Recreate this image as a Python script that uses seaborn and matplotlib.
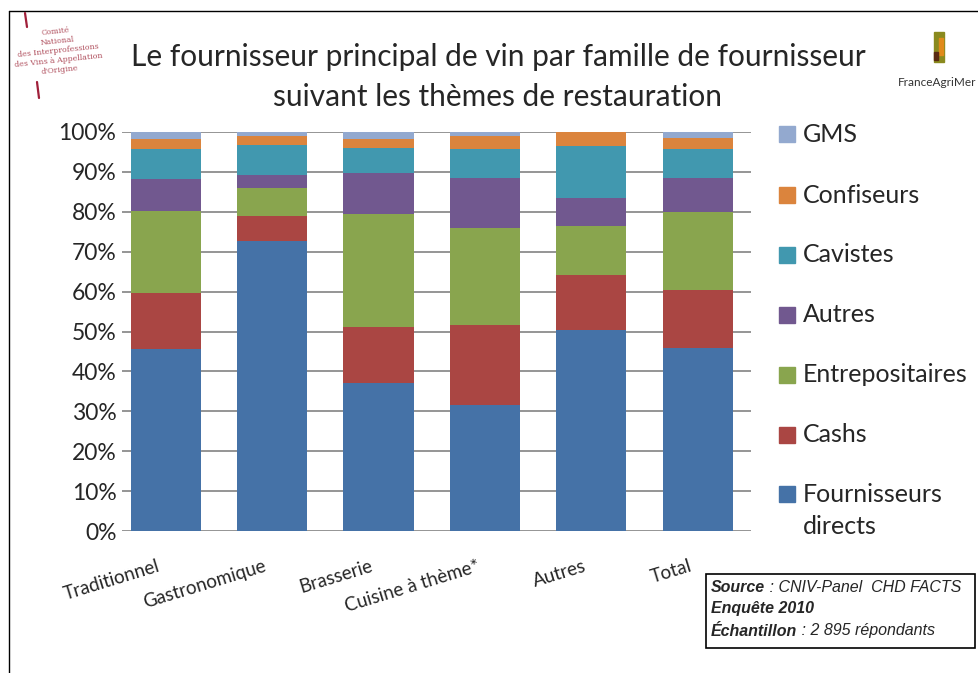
import matplotlib
matplotlib.use("Agg")
import matplotlib.pyplot as plt
import matplotlib.transforms as mtransforms
import numpy as np
import pandas as pd
import seaborn as sns
from matplotlib.patches import Rectangle
from matplotlib.lines import Line2D

# values (% of answers per theme)
themes = ["Traditionnel", "Gastronomique", "Brasserie", "Cuisine à thème*", "Autres", "Total"]
fournisseurs_directs = [45.5, 72.7, 37.1, 31.6, 50.5, 45.9]
cashs = [14.1, 6.3, 14.0, 20.1, 13.7, 14.5]
entrepositaires = [20.6, 7.0, 28.4, 24.3, 12.3, 19.6]
autres = [8.0, 3.2, 10.3, 12.5, 7.0, 8.5]
cavistes = [7.5, 7.5, 6.3, 7.2, 13.1, 7.2]
confiseurs = [2.5, 2.4, 2.1, 3.4, 3.4, 2.9]
gms = [1.8, 0.9, 1.8, 0.9, 0.0, 1.4]

series_names = ["Fournisseurs\ndirects", "Cashs", "Entrepositaires", "Autres",
                "Cavistes", "Confiseurs", "GMS"]
series_values = [fournisseurs_directs, cashs, entrepositaires, autres,
                 cavistes, confiseurs, gms]
colors = ["#4572A7", "#AA4643", "#89A54E", "#71588F", "#4198AF", "#DB843D", "#93A9CF"]

df = pd.DataFrame(dict(zip(series_names, series_values)), index=themes)
cum = df.cumsum(axis=1)

sns.set_style("white")
plt.rcParams["font.family"] = ["Lato", "DejaVu Sans"]

W, H = 979, 673
fig = plt.figure(figsize=(W / 100, H / 100), dpi=100)


def fx(px):
    return px / W


def fy(py):
    return 1 - py / H


ax = fig.add_axes([fx(122), fy(531), fx(751) - fx(122), fy(132) - fy(531)])

# stacked bars: draw cumulative totals from the top series down
for name, color in zip(series_names[::-1], colors[::-1]):
    sns.barplot(x=cum.index, y=cum[name].values, color=color, saturation=1,
                width=0.66, linewidth=0, ax=ax, zorder=2)

ax.set_xlim(-0.41, len(themes) - 0.5)
ax.set_ylim(0, 100)
ax.set_yticks(range(0, 101, 10))
ax.set_yticklabels([f"{v}%" for v in range(0, 101, 10)], fontsize=16.5)
ax.yaxis.grid(True, color="#8c8c8c", lw=1.3, zorder=0)
ax.set_axisbelow(True)
ax.tick_params(axis="both", length=0)
ax.tick_params(axis="y", pad=4)
ax.tick_params(axis="x", pad=25)
shift = mtransforms.ScaledTranslation(-6 / 100, 0, fig.dpi_scale_trans)
for lbl in ax.get_xticklabels():
    lbl.set_rotation(17)
    lbl.set_ha("right")
    lbl.set_va("center")
    lbl.set_rotation_mode("anchor")
    lbl.set_fontsize(13.5)
    lbl.set_transform(lbl.get_transform() + shift)
ax.set_xlabel("")
ax.set_ylabel("")
sns.despine(ax=ax, left=True, bottom=True)

# title
fig.text(fx(498), fy(57), "Le fournisseur principal de vin par famille de fournisseur",
         ha="center", va="center", fontsize=21.5)
fig.text(fx(498), fy(97), "suivant les thèmes de restauration",
         ha="center", va="center", fontsize=21.5)

# legend (GMS on top)
legend_y = [134, 195, 255, 315, 375, 435, 494]
for (name, color), y in zip(list(zip(series_names, colors))[::-1], legend_y):
    fig.patches.append(Rectangle((fx(779), fy(y + 8)), fx(16), fy(y - 8) - fy(y + 8),
                                 transform=fig.transFigure, color=color))
    first, *rest = name.split("\n")
    fig.text(fx(803), fy(y), first, ha="left", va="center", fontsize=18)
    if rest:
        fig.text(fx(803), fy(y + 32), rest[0], ha="left", va="center", fontsize=18)

# source box
fig.patches.append(Rectangle((fx(706), fy(648)), fx(975) - fx(706), fy(574) - fy(648),
                             transform=fig.transFigure, fill=False, ec="black", lw=1.2))
renderer = fig.canvas.get_renderer()
src_lines = [("Source", " : CNIV-Panel  CHD FACTS", 587),
             ("Enquête 2010", "", 609),
             ("Échantillon", " : 2 895 répondants", 631)]
for bold, plain, y in src_lines:
    t = fig.text(fx(711), fy(y), bold, ha="left", va="center", fontsize=11.5,
                 family="Liberation Sans", style="italic", weight="bold")
    if plain:
        bb = t.get_window_extent(renderer)
        fig.text(bb.x1 / fig.bbox.width, fy(y), plain, ha="left", va="center",
                 fontsize=11.5, family="Liberation Sans", style="italic")

# page frame
fig.add_artist(Line2D([fx(9), fx(9)], [fy(11), 0], color="black", lw=1))
fig.add_artist(Line2D([fx(9), 1], [fy(11), fy(11)], color="black", lw=1))

# CNIV logo
fig.add_artist(Line2D([fx(25), fx(27)], [fy(13), fy(27)], color="#a0203a", lw=1.6))
fig.add_artist(Line2D([fx(37), fx(39)], [fy(82), fy(98)], color="#a0203a", lw=1.6))
fig.text(fx(58), fy(51), "Comité\nNational\ndes Interprofessions\ndes Vins à Appellation\nd'Origine",
         ha="center", va="center", fontsize=5.6, family="DejaVu Serif", color="#b0505e",
         rotation=6, linespacing=1.3)

# FranceAgriMer logo
fig.patches.append(Rectangle((fx(934), fy(62)), fx(10), fy(32) - fy(62),
                             transform=fig.transFigure, color="#8a8a1e"))
fig.patches.append(Rectangle((fx(939), fy(55)), fx(4), fy(38) - fy(55),
                             transform=fig.transFigure, color="#e08a1a"))
fig.patches.append(Rectangle((fx(934), fy(60)), fx(4), fy(52) - fy(60),
                             transform=fig.transFigure, color="#5a2a10"))
fig.text(fx(898), fy(83), "FranceAgriMer", ha="left", va="center", fontsize=8.5,
         color="#333333")

fig.savefig("out.png", dpi=100)
